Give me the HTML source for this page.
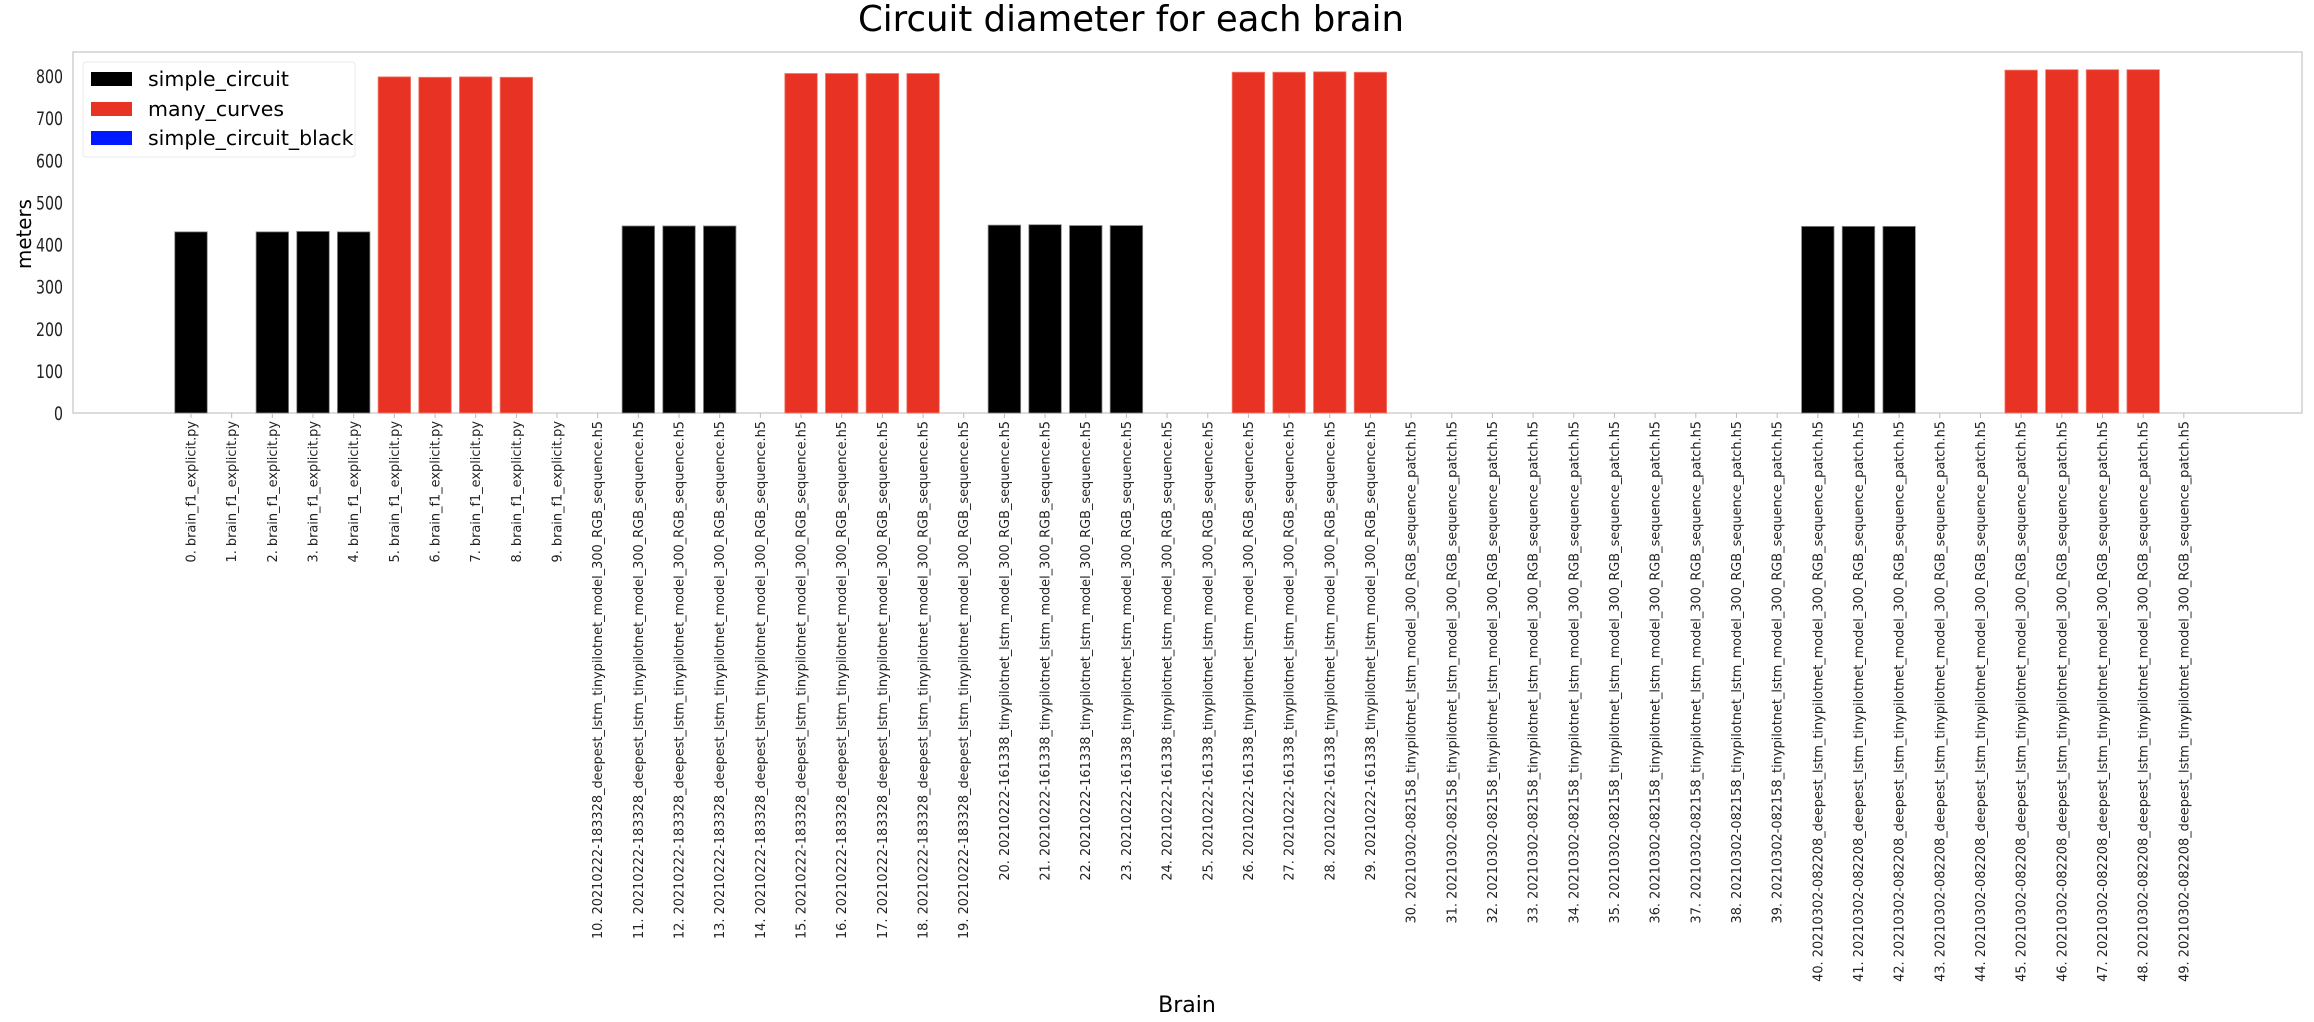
<!DOCTYPE html>
<html><head><meta charset="utf-8"><style>
html,body{margin:0;padding:0;background:#fff;}
svg{display:block;font-family:"DejaVu Sans","Liberation Sans",sans-serif;}
</style></head><body>
<svg id="chart" width="2314" height="1022" viewBox="0 0 2314 1022" xmlns="http://www.w3.org/2000/svg">
<text x="1131" y="31" font-size="35.5" text-anchor="middle" fill="#000">Circuit diameter for each brain</text>
<rect x="73" y="52" width="2229" height="361" fill="none" stroke="#d0d0d0" stroke-width="1.5"/>
<g id="bars"></g>
<g id="yticks"></g>
<g id="xticks"></g>
<text transform="translate(31,234) rotate(-90)" font-size="20" text-anchor="middle" fill="#000" textLength="70" lengthAdjust="spacingAndGlyphs">meters</text>
<text x="1187" y="1012" font-size="22" text-anchor="middle" fill="#000">Brain</text>
<g>
<rect x="83" y="62" width="272" height="95" fill="#fff" stroke="#e8e8e8" rx="3"/>
<g><rect x="91" y="72" width="41" height="14" fill="#000"/><text x="148" y="86" font-size="20.5">simple_circuit</text></g>
<g><rect x="91" y="102" width="41" height="14" fill="#e83324"/><text x="148" y="116" font-size="20.5">many_curves</text></g>
<g><rect x="91" y="131" width="41" height="14" fill="#0019ff"/><text x="148" y="145" font-size="20.5">simple_circuit_black</text></g>
</g>
</svg>
<script>
const labelPrefixes = ["brain_f1_explicit.py","20210222-183328_deepest_lstm_tinypilotnet_model_300_RGB_sequence.h5","20210222-161338_tinypilotnet_lstm_model_300_RGB_sequence.h5","20210302-082158_tinypilotnet_lstm_model_300_RGB_sequence_patch.h5","20210302-082208_deepest_lstm_tinypilotnet_model_300_RGB_sequence_patch.h5"];
const values = [430,0,430,431,430,798,797,798,797,0,
 0,444,444,444,0,806,806,806,806,0,
 446,447,445,445,0,0,809,809,810,809,
 0,0,0,0,0,0,0,0,0,0,
 443,443,443,0,0,814,815,815,815,0];
const seriesOf = ["s","s","s","s","s","m","m","m","m","s",
 "s","s","s","s","s","m","m","m","m","s",
 "s","s","s","s","s","s","m","m","m","m",
 "s","s","s","s","s","s","s","s","s","s",
 "s","s","s","s","s","m","m","m","m","s"];
const yTicks = [0,100,200,300,400,500,600,700,800];
const NS="http://www.w3.org/2000/svg";
const x0=191, step=40.67, barW=32.5, yBase=413, yScale=337/800;
const X=i=>x0+step*i, Y=v=>yBase-v*yScale;
const colors={s:"#000000",m:"#e83324"};
const gb=document.getElementById('bars'), gy=document.getElementById('yticks'), gx=document.getElementById('xticks');
values.forEach((v,i)=>{
  if(v<=0) return;
  const r=document.createElementNS(NS,'rect');
  
  
  r.setAttribute('x',X(i)-barW/2); r.setAttribute('y',Y(v));
  r.setAttribute('width',barW); r.setAttribute('height',yBase-Y(v));
  r.setAttribute('fill',colors[seriesOf[i]]);
  r.setAttribute('stroke', seriesOf[i]==='m' ? '#f08070' : '#888');
  r.setAttribute('stroke-width','0.8');
  gb.appendChild(r);
});
yTicks.forEach(t=>{
  const tx=document.createElementNS(NS,'text');
  
  
  tx.setAttribute('x',63); tx.setAttribute('y',Y(t)+7);
  tx.setAttribute('font-size','19'); tx.setAttribute('text-anchor','end');
  tx.setAttribute('textLength', String(t).length*9);
  tx.setAttribute('lengthAdjust','spacingAndGlyphs');
  tx.setAttribute('fill','#222');
  tx.textContent=t; gy.appendChild(tx);
});
values.forEach((v,i)=>{
  const tk=document.createElementNS(NS,'line');
  
  
  tk.setAttribute('x1',X(i)); tk.setAttribute('x2',X(i));
  tk.setAttribute('y1',413); tk.setAttribute('y2',418);
  tk.setAttribute('stroke','#bbb');
  gx.appendChild(tk);
  const tx=document.createElementNS(NS,'text');
  
  
  tx.setAttribute('transform','translate('+(X(i)+4.5)+',421) rotate(-90)');
  tx.setAttribute('font-size','12.9'); tx.setAttribute('text-anchor','end');
  tx.setAttribute('fill','#222');
  tx.textContent=i+'. '+labelPrefixes[Math.floor(i/10)];
  gx.appendChild(tx);
});
</script>
</body></html>
